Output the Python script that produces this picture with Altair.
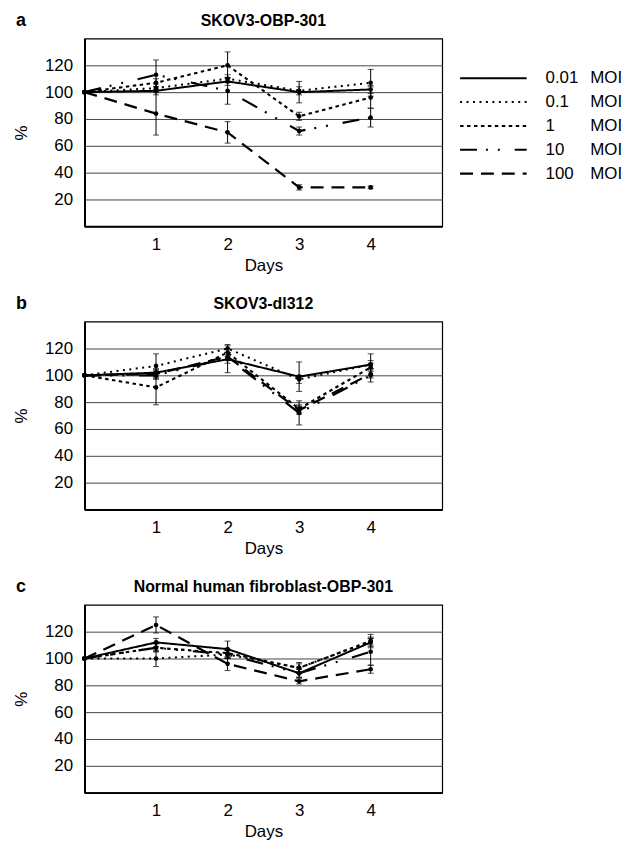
import altair as alt
import pandas as pd

days = [0, 1, 2, 3, 4]
series = ["0.01 MOI", "0.1 MOI", "1 MOI", "10 MOI", "100 MOI"]
legend_numbers = ["0.01", "0.1", "1", "10", "100"]

panel_letters = ["a", "b", "c"]
panel_titles = ["SKOV3-OBP-301", "SKOV3-dl312", "Normal human fibroblast-OBP-301"]

# Panel a: SKOV3-OBP-301
a_001 = [100, 101, 108, 100, 102]
a_01 = [100, 103, 110, 101, 107]
a_1 = [100, 107, 120, 82, 96]
a_10 = [100, 113, 101, 71, 81]
a_100 = [100, 84, 70, 29, 29]
a_001_err = [0, 3, 3, 8, 3]
a_01_err = [0, 3, 3, 3, 10]
a_1_err = [0, 3, 10, 3, 8]
a_10_err = [0, 11, 10, 3, 7]
a_100_err = [0, 16, 8, 2, 1]

# Panel b: SKOV3-dl312
b_001 = [100, 102, 112, 99, 108]
b_01 = [100, 107, 120, 97, 108]
b_1 = [100, 91, 117, 75, 106]
b_10 = [100, 100, 113, 72, 100]
b_100 = [100, 101, 114, 74, 101]
b_001_err = [0, 3, 10, 11, 8]
b_01_err = [0, 9, 3, 3, 3]
b_1_err = [0, 13, 3, 3, 3]
b_10_err = [0, 3, 4, 9, 5]
b_100_err = [0, 3, 3, 3, 3]

# Panel c: Normal human fibroblast-OBP-301
c_001 = [100, 112, 107, 89, 112]
c_01 = [100, 100, 103, 93, 113]
c_1 = [100, 108, 104, 93, 113]
c_10 = [100, 108, 103, 89, 105]
c_100 = [100, 125, 96, 83, 92]
c_001_err = [0, 3, 6, 3, 3]
c_01_err = [0, 6, 3, 4, 3]
c_1_err = [0, 3, 3, 3, 5]
c_10_err = [0, 3, 3, 3, 10]
c_100_err = [0, 6, 5, 2, 3]

panel_values = [
    [a_001, a_01, a_1, a_10, a_100],
    [b_001, b_01, b_1, b_10, b_100],
    [c_001, c_01, c_1, c_10, c_100],
]
panel_errors = [
    [a_001_err, a_01_err, a_1_err, a_10_err, a_100_err],
    [b_001_err, b_01_err, b_1_err, b_10_err, b_100_err],
    [c_001_err, c_01_err, c_1_err, c_10_err, c_100_err],
]

FONT = "Liberation Sans"
dash_scale = alt.Scale(
    domain=series,
    range=[[1, 0], [2, 4.5], [3.5, 3.5], [17, 9, 2, 10, 2, 15], [13, 8]],
)
width_scale = alt.Scale(domain=series, range=[2, 2.2, 3.5, 3, 3])


def ychan(field):
    return alt.Y(
        field,
        scale=alt.Scale(domain=[0, 140], nice=False, zero=False),
        axis=alt.Axis(
            values=[20, 40, 60, 80, 100, 120],
            title="%",
            grid=True,
            labelPadding=12,
            titlePadding=14,
        ),
    )


def ychan_noaxis(field):
    return alt.Y(field, scale=alt.Scale(domain=[0, 140], nice=False, zero=False), axis=None)


xchan = alt.X(
    "day:Q",
    scale=alt.Scale(domain=[0, 5], nice=False, zero=False),
    axis=alt.Axis(values=[1, 2, 3, 4], title="Days", grid=False, labelPadding=10, titlePadding=5),
)


def make_panel(i, with_legend):
    rows = []
    for s, vals, errs in zip(series, panel_values[i], panel_errors[i]):
        for d, v, e in zip(days, vals, errs):
            rows.append({"series": s, "day": d, "value": v, "err": e})
    df = pd.DataFrame(rows)
    base = alt.Chart(df)

    lines = base.mark_line(color="black").encode(
        x=xchan,
        y=ychan("value:Q"),
        detail="series:N",
        strokeDash=alt.StrokeDash("series:N", scale=dash_scale, legend=None),
        strokeWidth=alt.StrokeWidth("series:N", scale=width_scale, legend=None),
    )
    points = base.mark_point(filled=True, color="black", size=22, opacity=1).encode(
        x=xchan, y=ychan_noaxis("value:Q")
    )
    eb = base.transform_filter("datum.err > 0").transform_calculate(
        lo="datum.value - datum.err", hi="datum.value + datum.err"
    )
    rules = eb.mark_rule(color="black", strokeWidth=1).encode(
        x=xchan, y=ychan_noaxis("lo:Q"), y2="hi:Q"
    )
    cap_lo = eb.mark_tick(orient="horizontal", size=6, thickness=1, color="black").encode(
        x=xchan, y=ychan_noaxis("lo:Q")
    )
    cap_hi = eb.mark_tick(orient="horizontal", size=6, thickness=1, color="black").encode(
        x=xchan, y=ychan_noaxis("hi:Q")
    )
    head = alt.Chart(
        pd.DataFrame({"letter": [panel_letters[i]], "title": [panel_titles[i]]})
    )
    letter = head.mark_text(
        font=FONT, fontSize=18, fontWeight="bold", align="left", baseline="alphabetic", color="black"
    ).encode(text="letter:N", x=alt.value(-69), y=alt.value(-13))
    title = head.mark_text(
        font=FONT, fontSize=16, fontWeight="bold", align="center", baseline="alphabetic", color="black"
    ).encode(text="title:N", x=alt.value(180), y=alt.value(-13))

    layers = [lines, points, rules, cap_lo, cap_hi, letter, title]

    if with_legend:
        leg_df = pd.DataFrame({"series": series, "num": legend_numbers})
        ly = alt.Y(
            "series:N",
            scale=alt.Scale(type="point", domain=series, range=[40, 136], padding=0),
            axis=None,
        )
        leg = alt.Chart(leg_df)
        leg_rules = leg.mark_rule(color="black").encode(
            x=alt.value(378),
            x2=alt.value(445),
            y=ly,
            strokeDash=alt.StrokeDash("series:N", scale=dash_scale, legend=None),
            strokeWidth=alt.StrokeWidth("series:N", scale=width_scale, legend=None),
        )
        leg_num = leg.mark_text(
            font=FONT, fontSize=17, align="left", baseline="middle", color="black"
        ).encode(x=alt.value(464), y=ly, text="num:N")
        leg_moi = leg.mark_text(
            font=FONT, fontSize=17, align="left", baseline="middle", color="black"
        ).encode(x=alt.value(509), y=ly, text=alt.value("MOI"))
        layers += [leg_rules, leg_num, leg_moi]

    return (
        alt.layer(*layers)
        .resolve_scale(y="independent")
        .properties(width=360, height=189)
    )


chart = (
    alt.vconcat(make_panel(0, True), make_panel(1, False), make_panel(2, False), spacing=20)
    .properties(padding={"left": 4, "top": 0, "right": 5, "bottom": 0})
    .configure_view(stroke="black", strokeWidth=1.2)
    .configure_axis(
        labelFont=FONT,
        labelFontSize=17,
        labelColor="black",
        titleFont=FONT,
        titleFontSize=17,
        titleFontWeight="normal",
        titleColor="black",
        domainColor="black",
        domainWidth=2,
        gridColor="#444444",
        gridWidth=1,
        tickSize=0,
    )
)

chart.save("out.html", embed_options={"renderer": "svg", "actions": False})
